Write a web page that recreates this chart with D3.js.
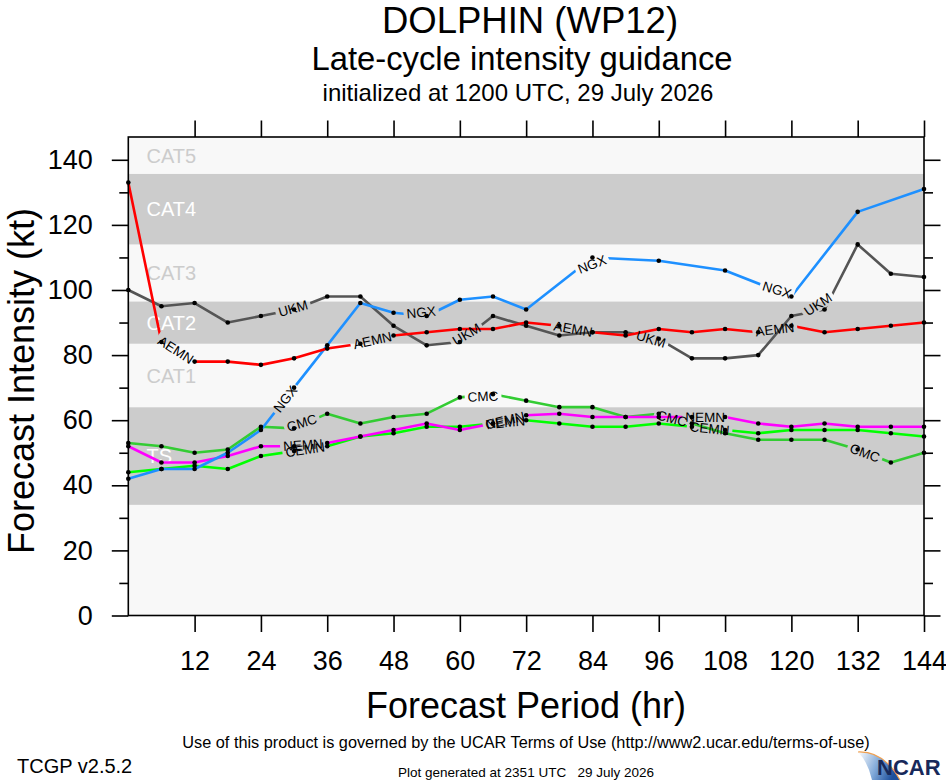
<!DOCTYPE html>
<html><head><meta charset="utf-8">
<script src="https://cdn.jsdelivr.net/npm/d3@7/dist/d3.min.js"></script>
<style>
html,body{margin:0;padding:0;background:#fff;}
svg{display:block;font-family:"Liberation Sans",Arial,Helvetica,sans-serif;}
</style></head><body>
<svg id="chart" width="946" height="780"></svg>
<script>
// ---------------- data ----------------
const hours = [0,6,12,18,24,30,36,42,48,54,60,66,72,78,84,90,96,102,108,114,120,126,132,138,144];
const aemn = [133,84,78,78,77,79,82,83.5,86,87,88,88,90,89,87,86,88,87,88,87,89,87,88,89,90];
const ukm  = [100,95,96,90,92,94,98,98,89,83,84,92,89,86,87,87,85,79,79,80,92,94,114,105,104];
const ngx  = [42,45,45,50,57,70,83,96,93,92,97,98,94,null,110,null,109,null,106,null,98,null,124,null,131];
const cmc  = [53,52,50,51,58,57.5,62,59,61,62,67,68,66,64,64,61,62,59,56,54,54,54,51,47,50];
const nemn = [52,47,47,49,52,52,53,55,57,59,57,59,61.5,62,61,61,61,61,61,59,58,59,58,58,58];
const cemn = [44,45,46,45,49,50.5,52,55,56,58,58,59,60,59,58,58,59,58,57,56,57,57,57,56,55];
const seriesNames = ["CEMN","CMC","NEMN","UKM","NGX","AEMN"];
const seriesValues = [cemn,cmc,nemn,ukm,ngx,aemn];
const seriesColors = ["#00ff00","#33cc33","#ff00ff","#555555","#1e90ff","#ff0000"];
// hour positions where each series' name is written along its line
const labelHours = [[32,68.2,105.2],[31.4,64.2,98.4,133.3],[31.6,68.2,104.4],[29.8,61.2,94.6,124.8],[28.4,53,83.9,117.4],[8.6,44.2,80.5,117]];
const yMajorTicks = [0,20,40,60,80,100,120,140];
const yMinorTicks = [10,30,50,70,90,110,130];
const xTicks = [12,24,36,48,60,72,84,96,108,120,132,144];
const bandNames = ["TS","CAT1","CAT2","CAT3","CAT4","CAT5"];
const bandLow  = [34,64,83.5,96.5,114,135.7];
const bandHigh = [64,83.5,96.5,114,135.7,147];
const bandDark = [true,false,true,false,true,false];
const yMax = 147;

// ---------------- layout ----------------
const svg = d3.select("#chart");
const L = 128.3, R = 924, T = 137, B = 615.5;
const x = d3.scaleLinear().domain([0,144]).range([L,R]);
const y = d3.scaleLinear().domain([0,yMax]).range([B,T]);

// plot background
svg.append("rect").attr("x",L).attr("y",T).attr("width",R-L).attr("height",B-T).attr("fill","#f8f8f8");
// bands
svg.append("g").selectAll("rect").data(bandNames).join("rect")
  .attr("x",L).attr("width",R-L)
  .attr("y",(d,i)=>y(bandHigh[i])).attr("height",(d,i)=>y(bandLow[i])-y(bandHigh[i]))
  .attr("fill",(d,i)=>bandDark[i]?"#cccccc":"#f8f8f8");
svg.append("g").selectAll("text").data(bandNames).join("text")
  .attr("x",146.5).attr("y",(d,i)=>y((bandLow[i]+bandHigh[i])/2))
  .attr("dy","0.36em").attr("font-size",20)
  .attr("fill",(d,i)=>bandDark[i]?"#ffffff":"#cccccc").text(d=>d);

// ---------------- series ----------------
const defs = svg.append("defs");
const lineGen = d3.line().x(d=>x(d[0])).y(d=>y(d[1]));
const labelSize = 13.5;
const measure = svg.append("text").attr("font-size",labelSize).attr("visibility","hidden");
function pointAt(pts, px){
  if(px<=pts[0][0]) return pts[0];
  for(let i=0;i<pts.length-1;i++){
    const a=pts[i], b=pts[i+1];
    if(px>=a[0] && px<=b[0]){
      const t=(px-a[0])/(b[0]-a[0]);
      return [a[0]+t*(b[0]-a[0]), a[1]+t*(b[1]-a[1])];
    }
  }
  return pts[pts.length-1];
}
const labelsAll = [];
const dotsAll = [];
const linesG = svg.append("g");
seriesNames.forEach((name,si)=>{
  const data = hours.map((h,i)=>[h,seriesValues[si][i]]).filter(d=>d[1]!==null);
  const pts = data.map(d=>[x(d[0]),y(d[1])]);
  measure.text(name);
  const w = measure.node().getComputedTextLength();
  const mask = defs.append("mask").attr("id","m"+si).attr("maskUnits","userSpaceOnUse")
    .attr("x",0).attr("y",0).attr("width",946).attr("height",780);
  mask.append("rect").attr("x",0).attr("y",0).attr("width",946).attr("height",780).attr("fill","#fff");
  labelHours[si].forEach(h=>{
    const cx = x(h);
    let ang = 0, p1, p2;
    for(let k=0;k<4;k++){
      const dx = (w/2+2)*Math.cos(ang);
      p1 = pointAt(pts,cx-dx); p2 = pointAt(pts,cx+dx);
      ang = Math.atan2(p2[1]-p1[1], p2[0]-p1[0]);
    }
    const mx=(p1[0]+p2[0])/2, my=(p1[1]+p2[1])/2;
    const deg = ang*180/Math.PI;
    mask.append("rect").attr("x",-w/2-3).attr("y",-7).attr("width",w+6).attr("height",14)
      .attr("fill","#000").attr("transform",`translate(${mx},${my}) rotate(${deg})`);
    labelsAll.push({name,mx,my,deg});
  });
  linesG.append("path").datum(data).attr("d",lineGen)
    .attr("fill","none").attr("stroke",seriesColors[si]).attr("stroke-width",2.6)
    .attr("stroke-linejoin","round").attr("mask",`url(#m${si})`);
  data.forEach(d=>dotsAll.push(d));
});
measure.remove();
svg.append("g").selectAll("circle").data(dotsAll).join("circle")
  .attr("cx",d=>x(d[0])).attr("cy",d=>y(d[1])).attr("r",2.3).attr("fill","#000");
svg.append("g").selectAll("text").data(labelsAll).join("text")
  .attr("transform",d=>`translate(${d.mx},${d.my}) rotate(${d.deg})`)
  .attr("text-anchor","middle").attr("dy","0.36em").attr("font-size",labelSize).attr("fill","#000")
  .text(d=>d.name);

// ---------------- axes ----------------
function styleAxis(g){ g.select(".domain").remove(); g.selectAll("line").attr("stroke","#000").attr("stroke-width",1.6); g.selectAll("text").attr("font-family","Liberation Sans, Arial, sans-serif").attr("fill","#000"); }
svg.append("g").attr("transform",`translate(${L},0)`)
  .call(d3.axisLeft(y).tickValues(yMajorTicks).tickSize(16.5).tickPadding(19).tickFormat(d3.format("d")))
  .call(styleAxis).call(g=>g.selectAll("text").attr("font-size",27));
svg.append("g").attr("transform",`translate(${L},0)`)
  .call(d3.axisLeft(y).tickValues(yMinorTicks).tickSize(9).tickFormat(""))
  .call(styleAxis);
svg.append("g").attr("transform",`translate(${R},0)`)
  .call(d3.axisRight(y).tickValues(yMajorTicks).tickSize(16.5).tickFormat(""))
  .call(styleAxis);
svg.append("g").attr("transform",`translate(${R},0)`)
  .call(d3.axisRight(y).tickValues(yMinorTicks).tickSize(9).tickFormat(""))
  .call(styleAxis);
svg.append("g").attr("transform",`translate(0,${B})`)
  .call(d3.axisBottom(x).tickValues(xTicks).tickSize(16.5).tickPadding(19).tickFormat(d3.format("d")))
  .call(styleAxis).call(g=>g.selectAll("text").attr("font-size",27));
svg.append("g").attr("transform",`translate(0,${T})`)
  .call(d3.axisTop(x).tickValues(xTicks).tickSize(16.5).tickFormat(""))
  .call(styleAxis);
svg.append("rect").attr("x",L).attr("y",T).attr("width",R-L).attr("height",B-T)
  .attr("fill","none").attr("stroke","#000").attr("stroke-width",1.6);

// ---------------- titles ----------------
const cxT = 526;
svg.append("text").attr("x",cxT+4).attr("y",33).attr("text-anchor","middle").attr("font-size",36.5).text("DOLPHIN (WP12)");
svg.append("text").attr("x",cxT-4).attr("y",70).attr("text-anchor","middle").attr("font-size",32.8).text("Late-cycle intensity guidance");
svg.append("text").attr("x",cxT-8).attr("y",100.5).attr("text-anchor","middle").attr("font-size",24).text("initialized at 1200 UTC, 29 July 2026");
svg.append("text").attr("x",cxT).attr("y",718).attr("text-anchor","middle").attr("font-size",36).text("Forecast Period (hr)");
svg.append("text").attr("transform","translate(34,381) rotate(-90)").attr("text-anchor","middle").attr("font-size",36).text("Forecast Intensity (kt)");
svg.append("text").attr("x",cxT).attr("y",748).attr("text-anchor","middle").attr("font-size",16.3)
  .text("Use of this product is governed by the UCAR Terms of Use (http://www2.ucar.edu/terms-of-use)");
svg.append("text").attr("x",17).attr("y",773).attr("font-size",20).text("TCGP v2.5.2");
svg.append("text").attr("x",cxT).attr("y",776.5).attr("text-anchor","middle").attr("font-size",13.5)
  .style("white-space","pre").text("Plot generated at 2351 UTC   29 July 2026");

// ---------------- NCAR logo ----------------
const grad = defs.append("linearGradient").attr("id","sw").attr("x1","0").attr("y1","0").attr("x2","1").attr("y2","0.3");
grad.append("stop").attr("offset","0").attr("stop-color","#ffffff");
grad.append("stop").attr("offset","0.55").attr("stop-color","#7fa8d8");
grad.append("stop").attr("offset","1").attr("stop-color","#1d4f9c");
svg.append("path").attr("d","M858,752 Q884,751 900,780 L872,780 Q868,762 858,752 Z").attr("fill","url(#sw)");
svg.append("path").attr("d","M858,752 Q884,751 900,780").attr("fill","none").attr("stroke","#f0a050").attr("stroke-width",1.2);
svg.append("text").attr("x",877).attr("y",775).attr("font-size",22).attr("font-weight","bold").attr("fill","#18295a").text("NCAR");
</script></body></html>
